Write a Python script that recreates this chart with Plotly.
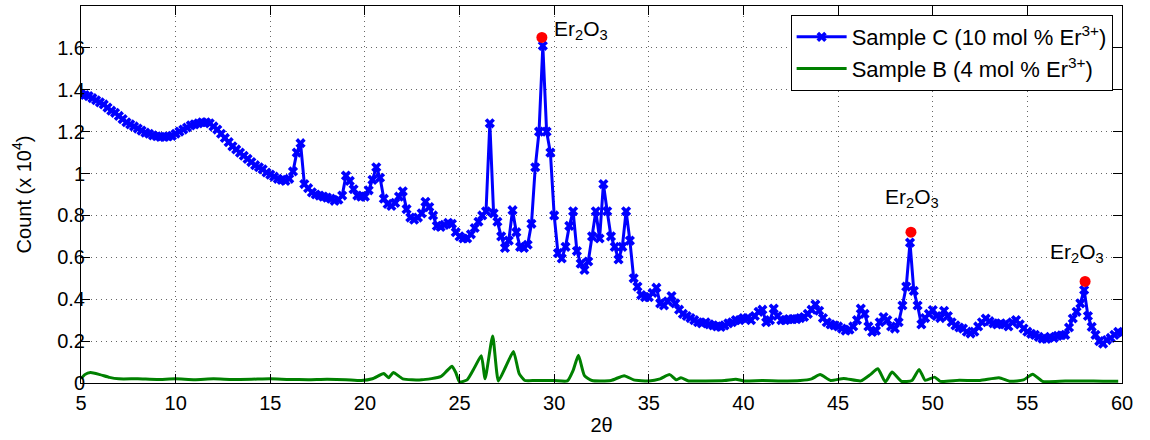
import plotly.graph_objects as go

# ---- data (counts in units of 10^4) ----
# Sample C: sampled every 0.2 deg from 5.0 to 60.0, one row per degree
C_START = 5.0
C_STEP = 0.2
sample_c_rows = [
    [1.380, 1.375, 1.370, 1.360, 1.350],  # 5
    [1.340, 1.330, 1.315, 1.300, 1.290],  # 6
    [1.275, 1.260, 1.245, 1.235, 1.225],  # 7
    [1.215, 1.205, 1.195, 1.190, 1.182],  # 8
    [1.178, 1.175, 1.175, 1.177, 1.180],  # 9
    [1.190, 1.200, 1.210, 1.220, 1.230],  # 10
    [1.235, 1.240, 1.245, 1.245, 1.240],  # 11
    [1.225, 1.210, 1.190, 1.170, 1.150],  # 12
    [1.130, 1.115, 1.100, 1.085, 1.070],  # 13
    [1.055, 1.040, 1.030, 1.020, 1.005],  # 14
    [0.995, 0.985, 0.975, 0.970, 0.965],  # 15
    [0.975, 1.010, 1.100, 1.145, 0.950],  # 16
    [0.930, 0.910, 0.900, 0.895, 0.890],  # 17
    [0.885, 0.880, 0.870, 0.875, 0.895],  # 18
    [0.990, 0.965, 0.925, 0.895, 0.890],  # 19
    [0.890, 0.920, 0.970, 1.030, 0.980],  # 20
    [0.880, 0.855, 0.845, 0.860, 0.890],  # 21
    [0.915, 0.830, 0.790, 0.780, 0.790],  # 22
    [0.810, 0.865, 0.840, 0.800, 0.750],  # 23
    [0.745, 0.755, 0.765, 0.760, 0.720],  # 24
    [0.700, 0.690, 0.690, 0.710, 0.740],  # 25
    [0.770, 0.800, 0.820, 1.240, 0.810],  # 26
    [0.770, 0.700, 0.645, 0.680, 0.825],  # 27
    [0.720, 0.650, 0.645, 0.660, 0.760],  # 28
    [1.030, 1.200, 1.610, 1.200, 1.100],  # 29
    [0.800, 0.620, 0.595, 0.650, 0.750],  # 30
    [0.820, 0.630, 0.570, 0.540, 0.580],  # 31
    [0.700, 0.820, 0.690, 0.950, 0.820],  # 32
    [0.700, 0.650, 0.590, 0.650, 0.820],  # 33
    [0.680, 0.500, 0.460, 0.420, 0.410],  # 34
    [0.410, 0.430, 0.455, 0.380, 0.370],  # 35
    [0.390, 0.415, 0.380, 0.350, 0.330],  # 36
    [0.320, 0.310, 0.300, 0.290, 0.285],  # 37
    [0.290, 0.280, 0.275, 0.270, 0.268],  # 38
    [0.275, 0.285, 0.290, 0.300, 0.300],  # 39
    [0.310, 0.310, 0.300, 0.320, 0.340],  # 40
    [0.350, 0.290, 0.300, 0.355, 0.320],  # 41
    [0.300, 0.300, 0.305, 0.305, 0.305],  # 42
    [0.310, 0.315, 0.330, 0.350, 0.375],  # 43
    [0.345, 0.310, 0.290, 0.280, 0.275],  # 44
    [0.270, 0.260, 0.250, 0.255, 0.270],  # 45
    [0.300, 0.355, 0.330, 0.270, 0.244],  # 46
    [0.250, 0.290, 0.315, 0.300, 0.270],  # 47
    [0.260, 0.290, 0.370, 0.460, 0.670],  # 48
    [0.440, 0.370, 0.280, 0.310, 0.330],  # 49
    [0.348, 0.320, 0.310, 0.345, 0.320],  # 50
    [0.290, 0.275, 0.265, 0.260, 0.245],  # 51
    [0.236, 0.245, 0.270, 0.290, 0.308],  # 52
    [0.295, 0.285, 0.280, 0.285, 0.280],  # 53
    [0.270, 0.290, 0.300, 0.280, 0.260],  # 54
    [0.245, 0.235, 0.230, 0.220, 0.212],  # 55
    [0.210, 0.220, 0.215, 0.225, 0.228],  # 56
    [0.230, 0.265, 0.308, 0.340, 0.380],  # 57
    [0.444, 0.320, 0.268, 0.230, 0.200],  # 58
    [0.188, 0.205, 0.215, 0.230, 0.244],  # 59
    [0.240],                              # 60
]
sample_c = [v for row in sample_c_rows for v in row]
sample_c_x = [round(C_START + i * C_STEP, 1) for i in range(len(sample_c))]

# Sample B: read at key points
sample_b_x = [5.0, 5.2, 5.5, 6.0, 6.5, 7.0, 8.0, 9.0, 10.0, 11.0, 12.0, 13.0, 14.0, 15.0,
              16.0, 17.0, 18.0, 19.0, 19.8, 20.4, 21.0, 21.25, 21.5, 22.0, 23.0, 24.0,
              24.3, 24.6, 24.8, 25.0, 25.4, 25.8, 26.15, 26.35, 26.75, 27.05, 27.45,
              27.85, 28.15, 28.45, 29.0, 30.0, 30.7, 31.0, 31.28, 31.6, 32.0, 33.0,
              33.7, 34.2, 35.0, 35.6, 36.1, 36.45, 36.7, 37.1, 38.0, 39.0, 39.6, 40.0,
              41.0, 42.0, 43.0, 43.6, 44.05, 44.6, 45.3, 46.2, 46.7, 47.1, 47.5, 47.85,
              48.35, 48.9, 49.28, 49.6, 50.1, 50.4, 51.4, 52.5, 53.5, 54.1, 54.8, 55.28,
              55.8, 57.0, 58.0, 59.0, 59.8]
sample_b = [0.020, 0.040, 0.050, 0.040, 0.027, 0.020, 0.020, 0.017, 0.020, 0.016, 0.020,
            0.017, 0.018, 0.020, 0.017, 0.016, 0.018, 0.016, 0.012, 0.020, 0.045, 0.025,
            0.050, 0.020, 0.015, 0.030, 0.055, 0.080, 0.050, 0.005, 0.015, 0.075, 0.130,
            0.020, 0.225, 0.010, 0.080, 0.150, 0.045, 0.012, 0.012, 0.012, 0.010, 0.060,
            0.132, 0.035, 0.012, 0.012, 0.035, 0.015, 0.010, 0.020, 0.040, 0.015, 0.025,
            0.010, 0.010, 0.012, 0.018, 0.010, 0.012, 0.010, 0.012, 0.020, 0.040, 0.012,
            0.022, 0.010, 0.040, 0.068, 0.005, 0.052, 0.008, 0.012, 0.065, 0.013, 0.028,
            0.008, 0.013, 0.012, 0.025, 0.008, 0.015, 0.042, 0.008, 0.010, 0.010, 0.008,
            0.008]

# Er2O3 peaks
peak_x = [29.35, 48.85, 58.05]
peak_y = [1.65, 0.72, 0.485]
peak_label = "Er<sub>2</sub>O<sub>3</sub>"
label_x = [29.9, 48.92, 57.6]
label_y = [1.685, 0.885, 0.62]
label_anchor = ["left", "center", "center"]

x_ticks = [5, 10, 15, 20, 25, 30, 35, 40, 45, 50, 55, 60]
y_ticks = [0, 0.2, 0.4, 0.6, 0.8, 1.0, 1.2, 1.4, 1.6]
y_ticktext = ["0", "0.2", "0.4", "0.6", "0.8", "1", "1.2", "1.4", "1.6"]

FONT = "Liberation Sans, Arial, Helvetica, sans-serif"
FS = 20

fig = go.Figure()
fig.add_trace(go.Scatter(
    x=sample_c_x, y=sample_c, mode="lines+markers",
    name="Sample C (10 mol % Er<sup>3+</sup>)",
    line=dict(color="#0000FF", width=3),
    marker=dict(symbol="x", size=9, color="#0000FF", line=dict(width=0)),
))
fig.add_trace(go.Scatter(
    x=sample_b_x, y=sample_b, mode="lines",
    name="Sample B (4 mol % Er<sup>3+</sup>)",
    line=dict(color="#008000", width=3, shape="spline", smoothing=0.5),
))
fig.add_trace(go.Scatter(
    x=peak_x, y=peak_y, mode="markers", showlegend=False,
    marker=dict(symbol="circle", size=11, color="#FF0000"),
))
for lx, ly, anc in zip(label_x, label_y, label_anchor):
    fig.add_annotation(x=lx, y=ly, text=peak_label, showarrow=False,
                       xanchor=anc, yanchor="middle",
                       font=dict(size=21, color="black", family=FONT))

axis_common = dict(
    showline=True, linecolor="black", linewidth=1, mirror="ticks",
    ticks="inside", ticklen=9, tickcolor="black", tickwidth=1,
    showgrid=True, gridcolor="#666666", gridwidth=1, griddash="1px,4px",
    zeroline=False, automargin=False,
    tickfont=dict(size=FS, color="black", family=FONT),
)
fig.update_xaxes(range=[5, 60], tickvals=x_ticks, ticklabelstandoff=2,
                 title=dict(text="2θ", font=dict(size=FS, color="black", family=FONT),
                            standoff=4),
                 **axis_common)
fig.update_yaxes(range=[0, 1.8], tickvals=y_ticks, ticktext=y_ticktext,
                 ticklabelstandoff=-9,
                 title=dict(text="Count (x 10<sup>4</sup>)",
                            font=dict(size=FS, color="black", family=FONT), standoff=20),
                 **axis_common)

fig.update_layout(
    width=1150, height=440,
    margin=dict(l=81, r=28, t=6, b=57),
    plot_bgcolor="white", paper_bgcolor="white",
    font=dict(family=FONT, color="black"),
    legend=dict(x=0.991, y=0.976, xanchor="right", yanchor="top",
                bgcolor="white", bordercolor="black", borderwidth=1,
                font=dict(size=22, color="black", family=FONT),
                itemwidth=50, tracegroupgap=0),
)

fig.write_html("out.html", config={"displayModeBar": False},
               post_script="document.body.style.margin='0';")
